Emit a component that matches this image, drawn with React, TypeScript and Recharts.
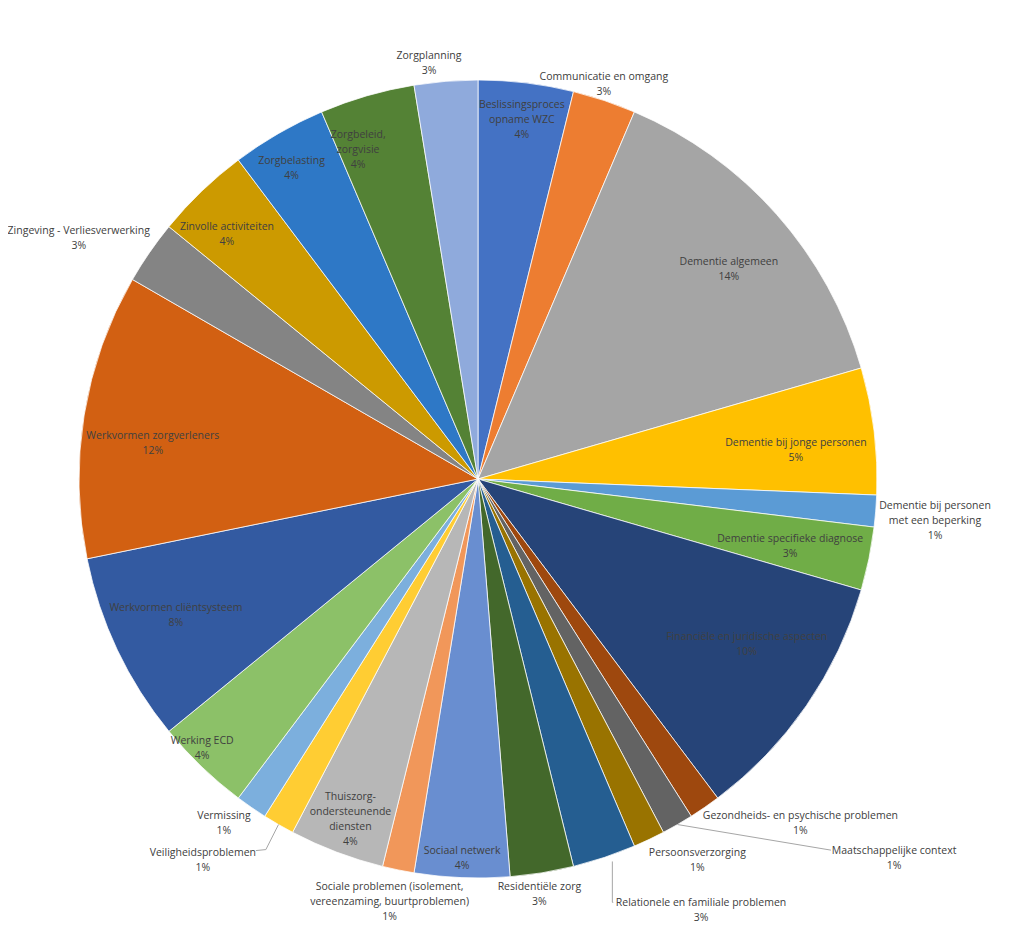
import { PieChart, Pie, Cell } from "recharts";

// categories in chart order (clockwise from 12 o'clock); "\n" marks label line breaks
const CATEGORIES = [
  "Beslissingsproces\nopname WZC",
  "Communicatie en omgang",
  "Dementie algemeen",
  "Dementie bij jonge personen",
  "Dementie bij personen\nmet een beperking",
  "Dementie specifieke diagnose",
  "Financiële en juridische aspecten",
  "Gezondheids- en psychische problemen",
  "Maatschappelijke context",
  "Persoonsverzorging",
  "Relationele en familiale problemen",
  "Residentiële zorg",
  "Sociaal netwerk",
  "Sociale problemen (isolement,\nvereenzaming, buurtproblemen)",
  "Thuiszorg-\nondersteunende\ndiensten",
  "Veiligheidsproblemen",
  "Vermissing",
  "Werking ECD",
  "Werkvormen cliëntsysteem",
  "Werkvormen zorgverleners",
  "Zingeving - Verliesverwerking",
  "Zinvolle activiteiten",
  "Zorgbelasting",
  "Zorgbeleid,\nzorgvisie",
  "Zorgplanning",
];

// counts per category
const COUNTS = [3, 2, 11, 4, 1, 2, 8, 1, 1, 1, 2, 2, 3, 1, 3, 1, 1, 3, 6, 9, 2, 3, 3, 3, 2];

const COLORS = [
  "#4472C4", "#ED7D31", "#A5A5A5", "#FFC000", "#5B9BD5", "#70AD47",
  "#264478", "#9E480E", "#636363", "#997300", "#255E91", "#43682B",
  "#698ED0", "#F1975A", "#B7B7B7", "#FFCD33", "#7CAFDD", "#8CC168",
  "#335AA1", "#D26012", "#848484", "#CC9A00", "#2E78C6", "#548235",
  "#8FAADC",
];

// label placement: radius factor, angle shift (deg), leader style
const LABEL_LAYOUT: [number, number, string][] = [
  [0.91, 0, ""], [1.04, -0.8, ""], [0.82, 1.6, ""], [0.8, 1.7, ""],
  [1.15, 0.5, ""], [0.8, 0.5, ""], [0.79, -3.1, ""], [1.18, -8.6, ""],
  [1.41, -17.7, "straight"], [1.1, -4.6, ""], [1.216, -8.9, "elbow"],
  [1.05, 0.8, ""], [0.95, 0.1, ""], [1.08, 0.3, ""], [0.91, -0.2, ""],
  [1.176, 5.9, "left"], [1.07, 1.9, ""], [0.965, 1.9, ""], [0.83, 1.2, ""],
  [0.82, -2.9, ""], [1.17, -3.4, ""], [0.88, -1.8, ""], [0.91, -0.9, ""],
  [0.88, -3.8, ""], [1.05, -2.1, ""],
];

const data = CATEGORIES.map((name, i) => ({ name, value: COUNTS[i] }));

const LINE_H = 15;
const CHAR_W = 5.1;

function renderLabel(props: any) {
  const { cx, cy, midAngle, outerRadius, index, percent } = props;
  const [rf, da, leader] = LABEL_LAYOUT[index];
  const theta = ((90 - midAngle + da) * Math.PI) / 180;
  const r = outerRadius * rf;
  const x = cx + r * Math.sin(theta);
  const y = cy - r * Math.cos(theta);
  const lines = [...CATEGORIES[index].split("\n"), `${Math.round(percent * 100)}%`];
  const top = y - ((lines.length - 1) * LINE_H) / 2;
  const w = Math.max(...lines.map((l) => l.length)) * CHAR_W;

  const t0 = ((90 - midAngle) * Math.PI) / 180;
  const ax = cx + outerRadius * Math.sin(t0);
  const ay = cy - outerRadius * Math.cos(t0);
  let path = "";
  if (leader === "straight") {
    path = `M${ax},${ay} L${x - w / 2 - 2},${top}`;
  } else if (leader === "elbow") {
    path = `M${ax + 8},${ay + 4} L${ax + 8},${top} L${x - w / 2 - 1},${top}`;
  } else if (leader === "left") {
    path = `M${ax},${ay} L${x + w / 2 + 12},${top - 2} L${x + w / 2 + 2},${top - 1}`;
  }

  return (
    <g key={`lbl-${index}`}>
      {path && <path d={path} stroke="#A6A6A6" strokeWidth={1} fill="none" />}
      <text
        x={x}
        y={top}
        textAnchor="middle"
        dominantBaseline="central"
        fill="#404040"
        fontSize={10.5}
        fontFamily="'Open Sans', 'Liberation Sans', sans-serif"
      >
        {lines.map((l, i) => (
          <tspan key={i} x={x} dy={i === 0 ? 0 : LINE_H}>
            {l}
          </tspan>
        ))}
      </text>
    </g>
  );
}

export default function App() {
  return (
    <div style={{ margin: "-8px", width: 1024, height: 937, background: "#ffffff" }}>
      <PieChart width={1024} height={937}>
        <Pie
          data={data}
          dataKey="value"
          nameKey="name"
          cx={473}
          cy={474}
          outerRadius={399}
          startAngle={90}
          endAngle={-270}
          stroke="#ffffff"
          strokeWidth={0.75}
          label={renderLabel}
          labelLine={false}
          isAnimationActive={false}
        >
          {data.map((_d, i) => (
            <Cell key={i} fill={COLORS[i % COLORS.length]} />
          ))}
        </Pie>
      </PieChart>
    </div>
  );
}
